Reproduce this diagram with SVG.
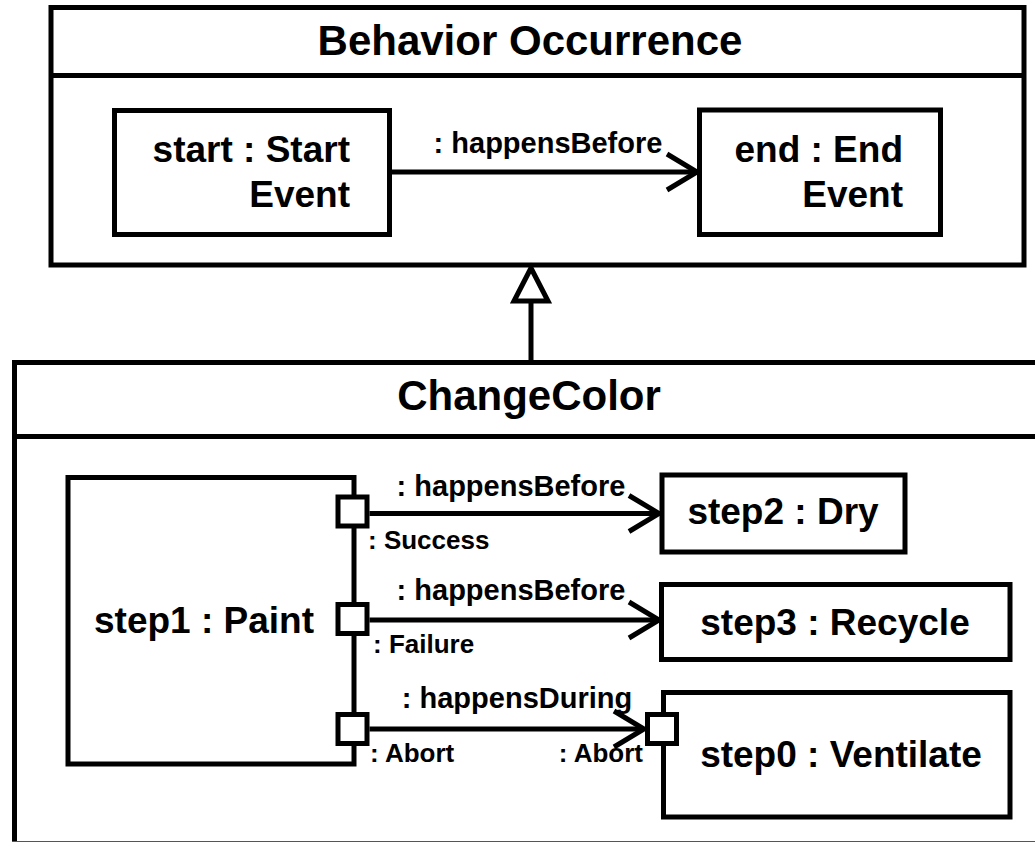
<svg xmlns="http://www.w3.org/2000/svg" width="1035" height="842" viewBox="0 0 1035 842">
  <style>
    .box { fill: #fff; stroke: #000; stroke-width: 5; }
    .line { fill: none; stroke: #000; stroke-width: 5; }
    .port { fill: #fff; stroke: #000; stroke-width: 5; }
    text { font-family: "Liberation Sans", Arial, sans-serif; font-weight: bold; fill: #000; }
    .title { font-size: 42px; text-anchor: middle; }
    .name { font-size: 37px; }
    .edge { font-size: 29px; }
    .plbl { font-size: 26px; }
  </style>
  <defs>
    <marker id="open" viewBox="-36 -24 40 48" markerWidth="40" markerHeight="48" refX="0" refY="0" orient="auto" markerUnits="userSpaceOnUse">
      <path d="M -30 -18 L 0 0 L -30 18" fill="none" stroke="#000" stroke-width="5" stroke-linejoin="miter"/>
    </marker>
  </defs>

  <rect width="1035" height="842" fill="#fff"/>

  <!-- Behavior Occurrence class -->
  <g id="behavior-occurrence">
    <rect class="box" x="51" y="7.5" width="973" height="257.5"/>
    <line class="line" x1="51" y1="75.5" x2="1024" y2="75.5"/>
    <text class="title" x="530" y="55">Behavior Occurrence</text>
  </g>

  <g id="start">
    <rect class="box" x="114.5" y="110.5" width="275" height="124"/>
    <text class="name" x="350" y="162" text-anchor="end">start : Start</text>
    <text class="name" x="350" y="207" text-anchor="end">Event</text>
  </g>

  <g id="end">
    <rect class="box" x="699.5" y="110" width="241" height="124.5"/>
    <text class="name" x="903" y="162" text-anchor="end">end : End</text>
    <text class="name" x="903" y="207" text-anchor="end">Event</text>
  </g>

  <!-- ChangeColor class (extends past the right and bottom edges) -->
  <g id="change-color">
    <path class="box" d="M 1040 362.5 L 14.5 362.5 L 14.5 850 L 1040 850"/>
    <line class="line" x1="14.5" y1="436.5" x2="1040" y2="436.5"/>
    <line x1="12" y1="841.5" x2="1035" y2="841.5" stroke="#555" stroke-width="1"/>
    <text class="title" x="529" y="410">ChangeColor</text>
  </g>

  <g id="step1">
    <rect class="box" x="68" y="477.5" width="286" height="286.5"/>
    <text class="name" x="94" y="633">step1 : Paint</text>
  </g>

  <g id="step2">
    <rect class="box" x="662" y="475" width="243" height="77"/>
    <text class="name" x="783" y="524" text-anchor="middle">step2 : Dry</text>
  </g>

  <g id="step3">
    <rect class="box" x="661.5" y="584.5" width="348.5" height="75"/>
    <text class="name" x="835" y="635" text-anchor="middle">step3 : Recycle</text>
  </g>

  <g id="step0">
    <rect class="box" x="663.5" y="692.5" width="346.5" height="124.5"/>
    <text class="name" x="841" y="767" text-anchor="middle">step0 : Ventilate</text>
  </g>

  <!-- ports on the parts -->
  <g id="ports">
    <rect class="port" x="338" y="497" width="29" height="29"/>
    <rect class="port" x="338" y="604.5" width="29" height="29"/>
    <rect class="port" x="338" y="714.5" width="29" height="29"/>
    <rect class="port" x="647.5" y="714.5" width="29" height="29"/>
    <text class="plbl" x="368" y="549">: Success</text>
    <text class="plbl" x="373" y="653">: Failure</text>
    <text class="plbl" x="370" y="762">: Abort</text>
    <text class="plbl" x="643" y="762" text-anchor="end">: Abort</text>
  </g>

  <!-- connectors -->
  <g id="connectors">
    <line class="line" x1="392" y1="172" x2="697" y2="172" marker-end="url(#open)"/>
    <text class="edge" x="548" y="153" text-anchor="middle">: happensBefore</text>

    <polygon points="531,268 514,301 548,301" fill="#fff" stroke="#000" stroke-width="5" stroke-linejoin="miter"/>
    <line class="line" x1="531" y1="301" x2="531" y2="361"/>

    <line class="line" x1="369.5" y1="513.5" x2="659" y2="513.5" marker-end="url(#open)"/>
    <text class="edge" x="511" y="496" text-anchor="middle">: happensBefore</text>

    <line class="line" x1="369.5" y1="620" x2="659" y2="620" marker-end="url(#open)"/>
    <text class="edge" x="511" y="600" text-anchor="middle">: happensBefore</text>

    <line class="line" x1="369.5" y1="729" x2="644" y2="729" marker-end="url(#open)"/>
    <text class="edge" x="517" y="708" text-anchor="middle">: happensDuring</text>
  </g>
</svg>
